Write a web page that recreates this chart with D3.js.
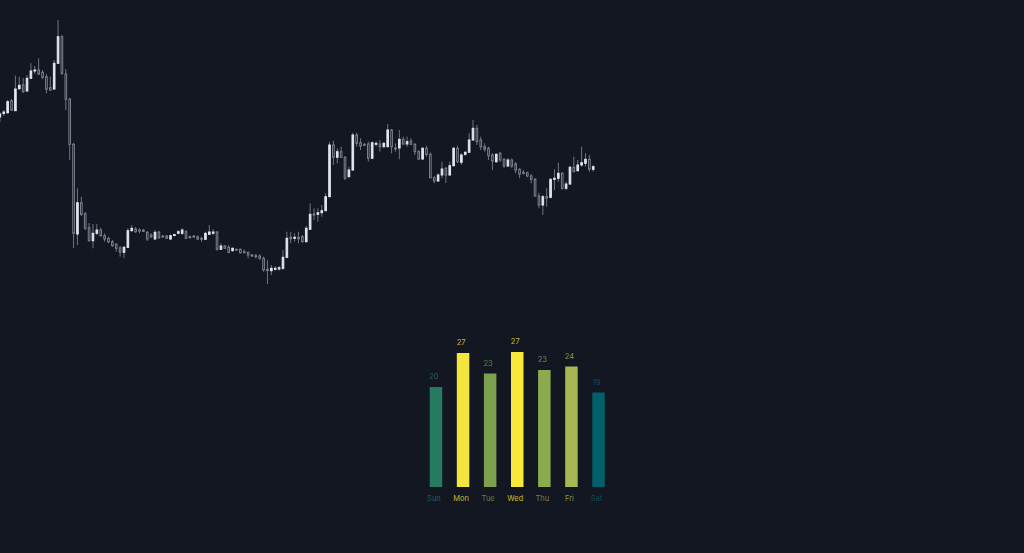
<!DOCTYPE html>
<html>
<head>
<meta charset="utf-8">
<script src="https://cdn.jsdelivr.net/npm/d3@7/dist/d3.min.js"></script>
<style>
  html, body { margin: 0; padding: 0; background: #131722; }
  svg { display: block; }
</style>
</head>
<body>
<svg id="chart" width="1024" height="553"></svg>
<script>
// ---- Candlestick data (price units) ----
const candleOpen = [183,186.5,187.3,199.3,189.3,211.3,215,209,221.7,229,
230,227.7,223.3,212.3,211,236.7,263.3,226,201,155.7,
66,97.3,86.3,72.3,59.3,66.7,70,64.3,61.7,58.3,
55.7,52,47.7,52.7,69.3,71,70,70,67.7,65,
61,68,64,64,61,64.5,66.7,66.7,68.3,63.3,
64,63.3,61.7,60.7,65.7,66.7,68,50.7,54,52.7,
49.3,50.7,50.7,48.3,47.7,45,44.3,44,41.7,30.7,
29.3,30.7,31,31.7,42.7,62.7,61.7,62.7,63.3,58.3,
70.7,86,85.7,87.3,89.3,103.3,155,142.7,148.3,142.7,
123.3,130,165,157.3,155.7,156,141.7,155.7,156,153.3,
153.3,170,152,152,160.7,156,159,155.7,148.3,141,
151.7,145.7,122.3,119,125,131.7,125,134.3,151.7,137.7,
145.7,147.7,160,171.7,160,153.3,151.7,145,138.3,146.7,
140.7,134,140,136,130.7,127.7,127.3,124,120.7,104,
95,103.3,102.7,120.7,121.7,126.7,111.7,116,132.7,129.3,
135,136.7,140.7,130.7];
const candleHigh = [188,190,200,201,224.3,223.3,222,225,236.7,234,
241.7,230,226,223.3,240,280,265,231,202,157,
111.7,103.3,88,77,76,76,72.3,66.7,63.3,60,
57,54,54,71.7,75,73,71.7,71,69,66.7,
70,69,65,65,65.5,66,70,71.7,70,64.5,
65,64.5,63.3,68.3,75,70.7,69,56.7,55,55,
52.5,51.5,51.5,50.7,48.3,46,46,45.7,43.3,40,
35,34,34,50,68.3,68.3,66.7,68.3,65,74,
96.7,91.7,91.7,95,106.7,158.3,159.3,151.7,153.3,144,
133.3,167.3,167.3,161.7,157,158.3,158.3,158.3,160,158,
176,171,156.7,170,163.3,163.3,161.7,157,150,153,
154.3,147.7,124,126.7,138.3,133,138.3,153.3,154.3,146.7,
149,166.7,180,175,163.3,156.7,153.3,147,147,148,
141.7,142,141.7,138,131.7,130,128.3,126,122,107.3,
105,111.7,121.7,130.7,137.3,128,118.3,134,143.3,140,
153.3,146.7,145,135];
const candleLow = [178,184,186,189,189,210,207,208,221,226,
225,221,206.7,209,210,236,225,190,140,52,
55,84,70,58.3,51.7,65,63.3,58.3,56.7,53,
48.3,43.3,42,52,68.3,67,66.7,68,59,61.7,
60,61,62,61,60,63.5,65.7,65,61,61.5,
62,60,58.3,60,65,65,49.3,50,51,46.7,
48.5,49,46.5,46.7,41.7,43,41.7,40,28.3,16,
25,29.3,29.3,30,41.7,56.7,58.3,56.7,57.5,57.5,
70,80,78.3,83.3,89,103,135,136.7,142,120,
122.7,129,153.3,150,154,138.3,141,153.3,148.3,152,
152.5,146.7,148.3,140.7,155,153.3,155,145,140,140,
143.3,121.7,116.7,118,121.7,117,124,133.5,137,135,
144,147,159,155,150,148.3,140,130,137,138,
132,133,131.7,126.7,121.7,125.5,122.7,116.7,103.3,91.7,
85,93.3,101.7,110,118.3,110,110,115,128.3,128.5,
133.3,133.3,128.3,128.3];
const candleClose = [186,188,198.3,190,211,214.7,208.3,221.7,229,230,
226,222.7,210.7,210,236.7,263.3,226.7,200.7,155.7,66.7,
97.3,85.7,71.7,59.3,66.7,70,64.3,61,58.3,54.3,
51.7,48,52.7,69.3,71.7,68.3,69,68.5,61,63.3,
67.7,62.3,63,61.7,64.3,65.5,68.3,70,61.7,62.3,
63,61,60.7,66.7,68,68,50.7,54,51.7,47.7,
51.7,50,47.3,47.3,45,44,43.3,41.7,30,29.3,
31.7,31.7,32.3,42.7,61.7,61.3,62.7,61.3,58.3,71.7,
85.7,85,87.3,89.3,103.3,155,142.7,148.3,142.7,121.7,
130,165,156.7,154,154.7,141.7,157.3,156.7,153.3,156.7,
170,153.3,151,160.7,156,158.3,155.7,148.3,141,151.7,
145.7,122.3,119,125,131,125,134.3,151.7,138.3,145,
147.7,160,171.7,158.3,153.3,150.7,144.3,139,145.7,140,
134,140,134,130,126,126.7,124,120.7,104,95,
103.3,102,120.7,121.7,126.7,111.7,116,132.7,128.3,135,
137.3,140.7,130.7,133.3];

// ---- Weekday bar data ----
const days = ["Sun","Mon","Tue","Wed","Thu","Fri","Sat"];
const dayValues = [20, 26.8, 22.7, 27, 23.4, 24.1, 18.9];

const svg = d3.select("#chart");
const BG = "#131722";

// ---- Candles ----
const idx = d3.range(candleClose.length);
const x = d3.scaleBand().domain(idx).range([-1.43, 594.55]).paddingInner(0.32);
const y = d3.scaleLinear().domain([0, 300]).range([300, 0]);

const candles = svg.append("g").attr("class", "candles");
const wickColor = "#6f7380";
const bearColor = "#7d818d";
const bullColor = "#e3e5ec";

const g = candles.selectAll("g").data(idx).join("g");
g.append("line")
  .attr("x1", i => x(i) + x.bandwidth() / 2)
  .attr("x2", i => x(i) + x.bandwidth() / 2)
  .attr("y1", i => y(candleHigh[i]))
  .attr("y2", i => y(candleLow[i]))
  .attr("stroke", wickColor)
  .attr("stroke-width", 1);
g.append("rect")
  .attr("x", i => x(i) + 0.5)
  .attr("width", x.bandwidth() - 1)
  .attr("y", i => y(Math.max(candleOpen[i], candleClose[i])))
  .attr("height", i => Math.max(0.8, Math.abs(y(candleOpen[i]) - y(candleClose[i]))))
  .attr("fill", i => candleClose[i] >= candleOpen[i] ? bullColor : BG)
  .attr("stroke", i => candleClose[i] >= candleOpen[i] ? bullColor : bearColor)
  .attr("stroke-width", 1);

// ---- Weekday bars ----
const bx = d3.scaleBand().domain(days).range([422.4, 612.1]).paddingInner(0.539).paddingOuter(0.27);
const by = d3.scaleLinear().domain([0, d3.max(dayValues)]).range([487, 352]);
const color = d3.scaleLinear()
  .domain([18.9, 20, 22.7, 23.4, 24.1, 27])
  .range(["#02606a", "#277a62", "#7da04f", "#8cab4f", "#a7b852", "#f9e83a"]);

const labelShift = -2;
const bars = svg.append("g").attr("class", "bars");
bars.selectAll("rect").data(days).join("rect")
  .attr("x", d => bx(d))
  .attr("width", bx.bandwidth())
  .attr("y", (d, i) => by(dayValues[i]))
  .attr("height", (d, i) => by(0) - by(dayValues[i]))
  .attr("fill", (d, i) => color(dayValues[i]));

bars.selectAll("text.val").data(days).join("text")
  .attr("class", "val")
  .attr("x", d => bx(d) + bx.bandwidth() / 2 + labelShift)
  .attr("y", (d, i) => by(dayValues[i]) - 8)
  .attr("text-anchor", "middle")
  .attr("font-family", "Inter, sans-serif")
  .attr("font-size", 7.5)
  .attr("font-weight", 400)
  .attr("fill", (d, i) => color(dayValues[i]))
  .attr("fill-opacity", 0.78)
  .text((d, i) => d3.format(".0f")(dayValues[i]));

bars.selectAll("text.day").data(days).join("text")
  .attr("class", "day")
  .attr("x", d => bx(d) + bx.bandwidth() / 2 + labelShift)
  .attr("y", 501)
  .attr("text-anchor", "middle")
  .attr("font-family", "Inter, sans-serif")
  .attr("font-size", 7.5)
  .attr("font-weight", 400)
  .attr("fill", (d, i) => color(dayValues[i]))
  .attr("fill-opacity", 0.78)
  .text(d => d);
</script>
</body>
</html>
